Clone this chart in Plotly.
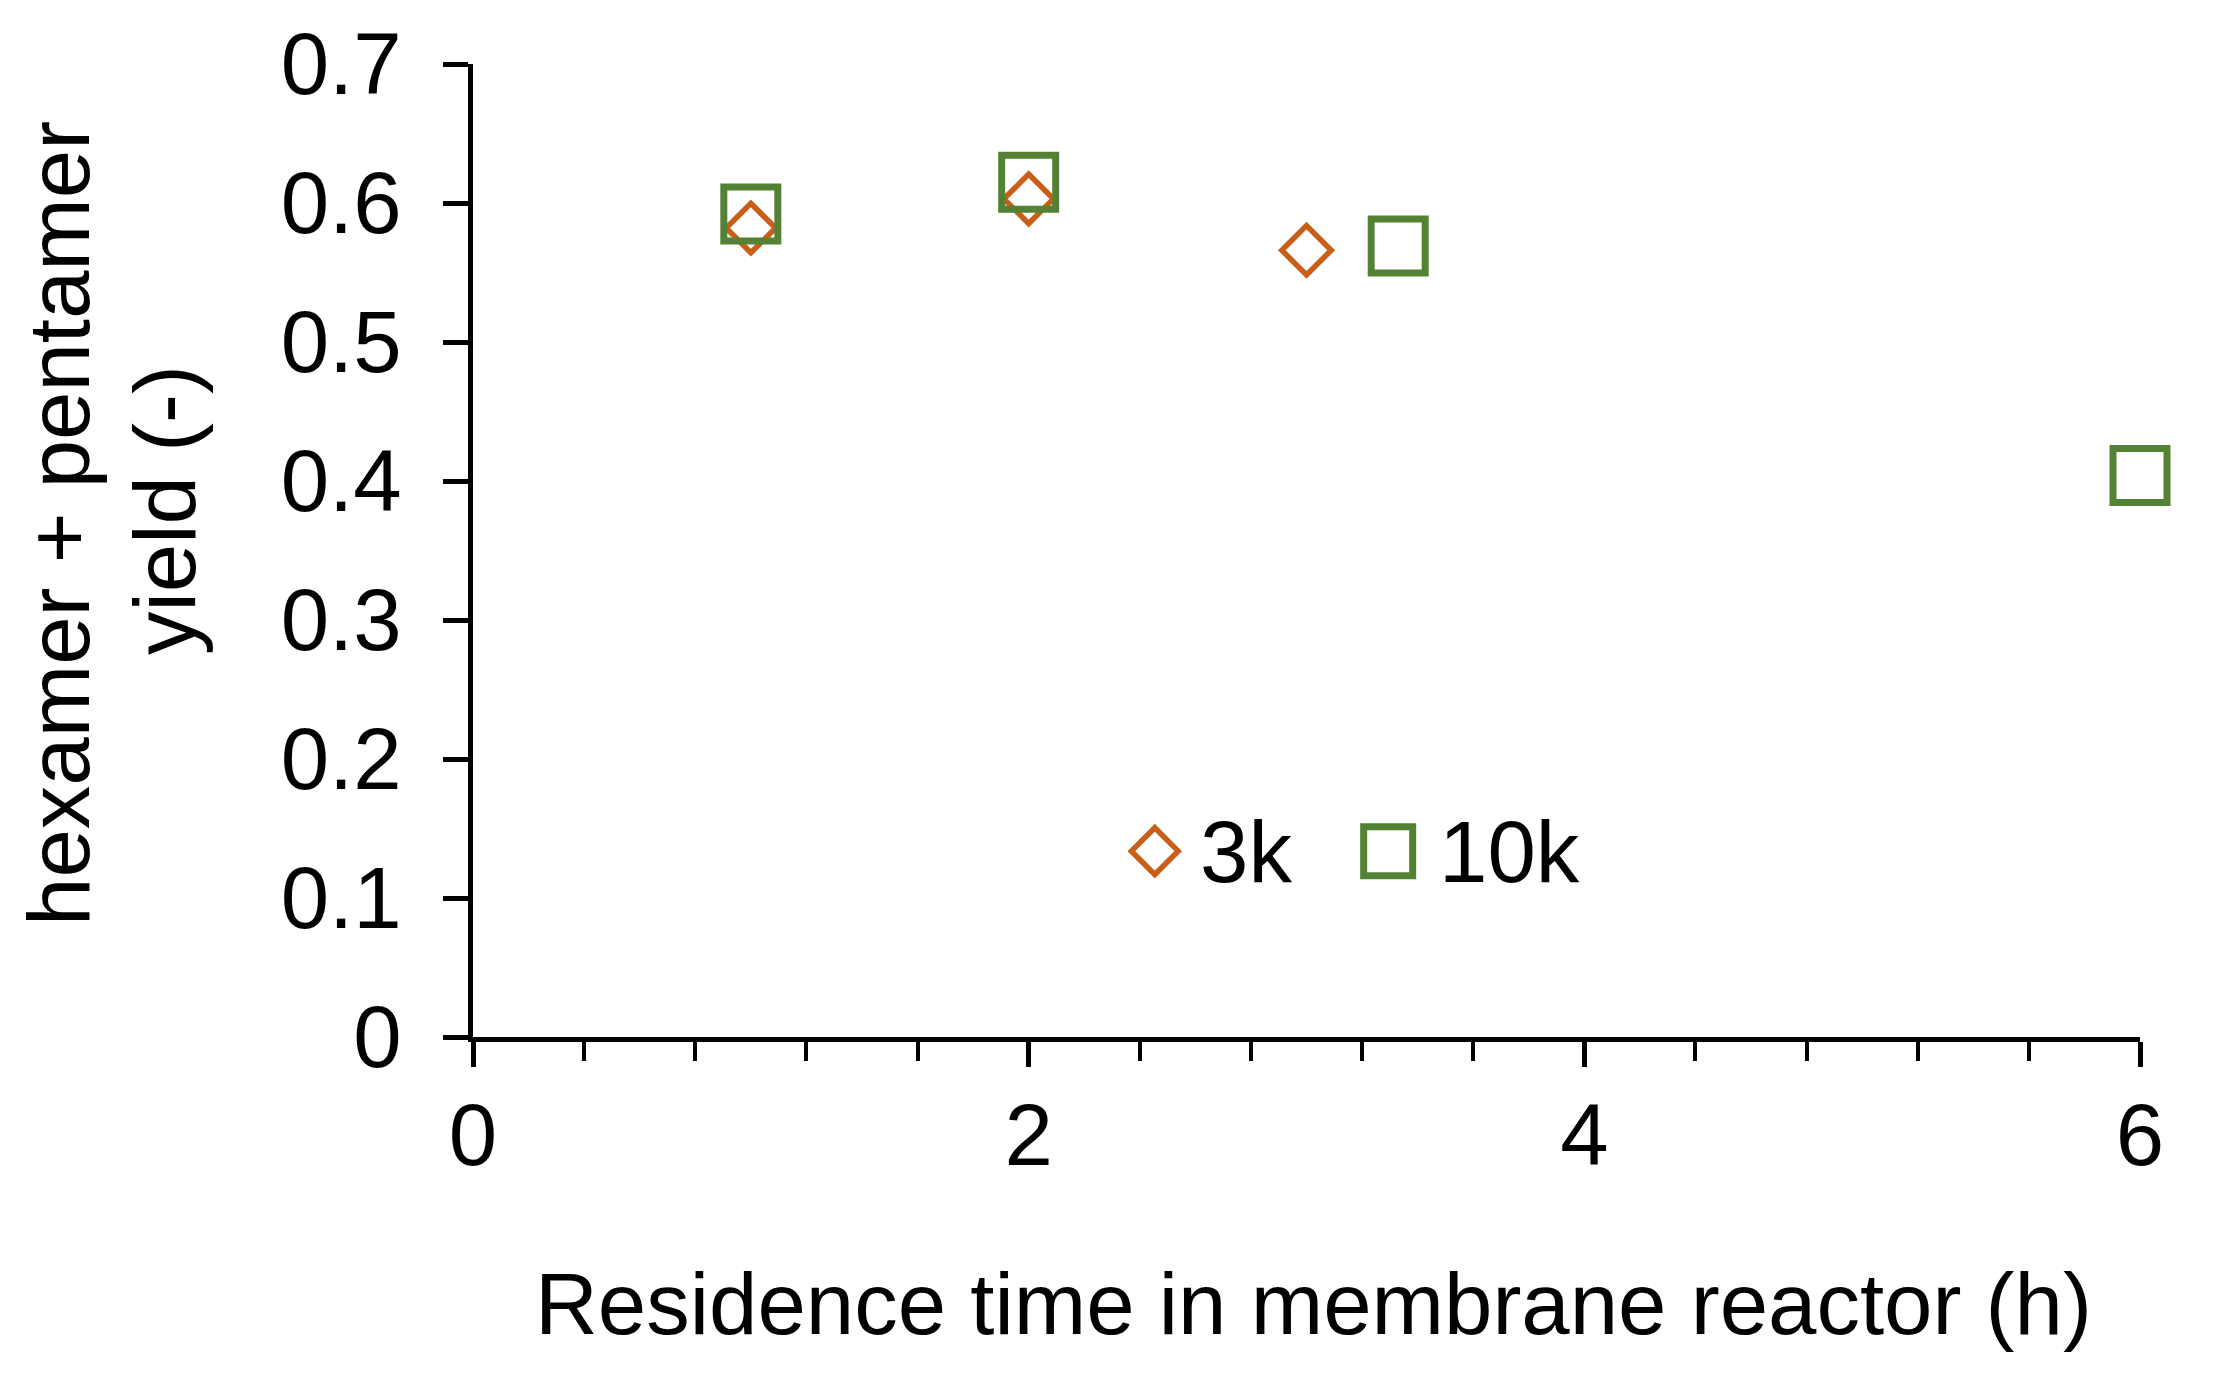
import plotly.graph_objects as go

# ---- data ----
x_3k = [1, 2, 3]
y_3k = [0.582, 0.603, 0.566]
x_10k = [1, 2, 3.33, 6]
y_10k = [0.592, 0.615, 0.569, 0.404]
series_names = ["3k", "10k"]
x_title = "Residence time in membrane reactor (h)"
y_title_lines = ["hexamer + pentamer", "yield (-)"]

ORANGE = "#C85E17"
GREEN = "#548235"
CLEAR = "rgba(0,0,0,0)"
FONT = "Liberation Sans, Arial, sans-serif"
FS = 87

W, H = 2221, 1395
L, R, T, B = 473, 2140, 64, 1037

fig = go.Figure()

fig.add_trace(go.Scatter(
    x=x_3k, y=y_3k, mode="markers", name=series_names[0], showlegend=False,
    cliponaxis=False,
    marker=dict(symbol="diamond", size=38, color=CLEAR,
                line=dict(color=ORANGE, width=5.5)),
))
fig.add_trace(go.Scatter(
    x=x_10k, y=y_10k, mode="markers", name=series_names[1], showlegend=False,
    cliponaxis=False,
    marker=dict(symbol="square", size=54, color=CLEAR,
                line=dict(color=GREEN, width=7)),
))

# custom legend on an invisible overlay axis (fractions of the plot area)
leg_y = 0.191
fig.add_trace(go.Scatter(
    x=[0.409], y=[leg_y], xaxis="x2", yaxis="y2", mode="markers", showlegend=False,
    hoverinfo="skip", cliponaxis=False,
    marker=dict(symbol="diamond", size=36, color=CLEAR,
                line=dict(color=ORANGE, width=5.5)),
))
fig.add_trace(go.Scatter(
    x=[0.549], y=[leg_y], xaxis="x2", yaxis="y2", mode="markers", showlegend=False,
    hoverinfo="skip", cliponaxis=False,
    marker=dict(symbol="square", size=49, color=CLEAR,
                line=dict(color=GREEN, width=7)),
))

tfont = dict(family=FONT, size=FS, color="black")
annotations = [
    dict(text=series_names[0], x=0.435, y=leg_y, xref="x2 domain", yref="y2 domain",
         xanchor="left", yanchor="middle", showarrow=False, font=tfont),
    dict(text=series_names[1], x=0.578, y=leg_y, xref="x2 domain", yref="y2 domain",
         xanchor="left", yanchor="middle", showarrow=False, font=tfont),
    # x-axis title
    dict(text=x_title, x=(1313 - L) / (R - L), y=(B - 1303) / (B - T),
         xref="paper", yref="paper", showarrow=False,
         xanchor="center", yanchor="middle", font=tfont),
]
# y-axis title (two lines, rotated)
for cx, cy, line in zip([58, 164], [524, 510], y_title_lines):
    annotations.append(dict(
        text=line, x=(cx - L) / (R - L), y=(B - cy) / (B - T),
        xref="paper", yref="paper", showarrow=False, textangle=-90,
        xanchor="center", yanchor="middle", font=tfont,
    ))

axis_common = dict(
    showgrid=False, zeroline=False, automargin=False,
    showline=True, linecolor="black", linewidth=5,
    ticks="outside", ticklen=25, tickwidth=4.5, tickcolor="black",
    tickfont=tfont,
)

fig.update_layout(
    template="none",
    width=W, height=H,
    margin=dict(l=L, r=W - R, t=T, b=H - B, pad=0),
    paper_bgcolor="white", plot_bgcolor="white",
    font=tfont,
    showlegend=False,
    hovermode=False,
    annotations=annotations,
    xaxis=dict(
        range=[0, 6], dtick=2, tick0=0,
        minor=dict(dtick=0.4, tick0=0, ticks="outside", ticklen=19, tickwidth=4,
                   tickcolor="black", showgrid=False),
        ticklabelstandoff=-6,
        **axis_common,
    ),
    yaxis=dict(
        range=[0, 0.7], dtick=0.1, tick0=0,
        ticklabelstandoff=24,
        **axis_common,
    ),
    xaxis2=dict(range=[0, 1], overlaying="x", visible=False, fixedrange=True),
    yaxis2=dict(range=[0, 1], overlaying="y", visible=False, fixedrange=True),
)

fig.write_html("out.html", config={"displayModeBar": False},
               post_script="document.body.style.margin='0';")
